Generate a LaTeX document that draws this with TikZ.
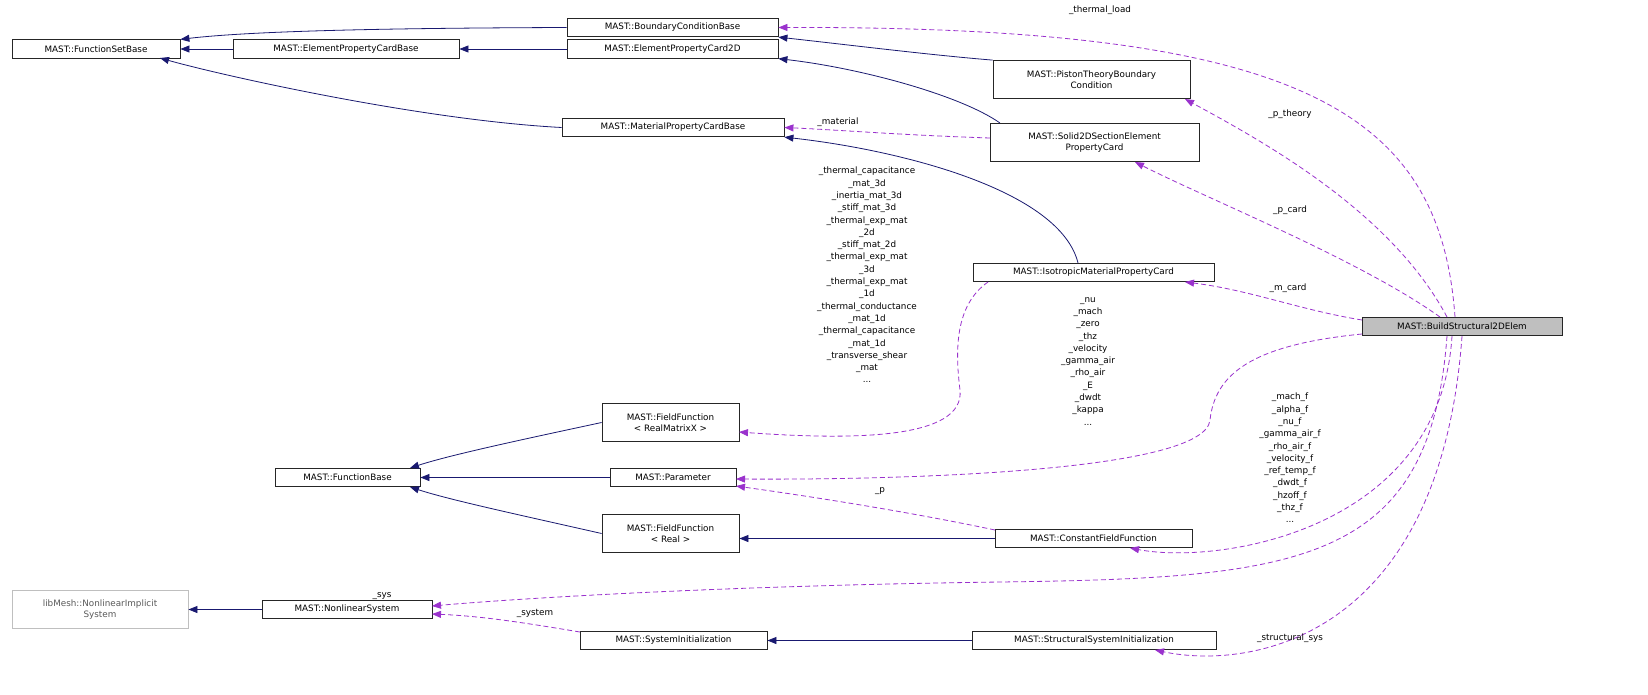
\documentclass[tikz,border=0pt]{standalone}
\usepackage{fontspec}
\setmainfont{DejaVu Sans}
\usetikzlibrary{arrows.meta}
\definecolor{navy}{HTML}{191970}
\definecolor{purp}{HTML}{9A32CD}
\begin{document}
\begin{tikzpicture}[x=1pt,y=-1pt,
  box/.style={draw=black!85,fill=white,inner sep=0pt,font=\fontsize{8.8}{11.5}\selectfont,align=center,line width=0.8pt,minimum height=18.5pt},
  box2/.style={box,minimum height=38pt},
  inh/.style={draw=navy,line width=0.8pt,-{Triangle[length=9pt,width=7pt]}},
  col/.style={draw=purp,line width=0.8pt,dashed,dash pattern=on 5pt off 3pt,-{Triangle[length=9pt,width=7pt]}},
  lab/.style={font=\fontsize{8.8}{12.3}\selectfont,align=center,inner sep=0pt}]
\useasboundingbox (0,0) rectangle (1648,694);
\fill[white] (0,0) rectangle (1648,694);
\node[box,minimum width=168pt] (fsb) at (96,49) {MAST::FunctionSetBase};
\node[box,minimum width=211pt] (bcb) at (672.5,27.5) {MAST::BoundaryConditionBase};
\node[box,minimum width=226pt] (epcb) at (346,49) {MAST::ElementPropertyCardBase};
\node[box,minimum width=211pt] (epc2) at (672.5,49) {MAST::ElementPropertyCard2D};
\node[box,minimum width=222pt] (mpcb) at (673,127.5) {MAST::MaterialPropertyCardBase};
\node[box2,minimum width=197pt] (pist) at (1091.5,79.5) {MAST::PistonTheoryBoundary\\Condition};
\node[box2,minimum width=209pt] (sol) at (1094.5,142.5) {MAST::Solid2DSectionElement\\PropertyCard};
\node[box,minimum width=241pt] (iso) at (1093.5,272.5) {MAST::IsotropicMaterialPropertyCard};
\node[box,fill=black!25,minimum width=200pt] (bld) at (1462,326.5) {MAST::BuildStructural2DElem};
\node[box2,minimum width=137pt] (ffm) at (670.5,422.5) {MAST::FieldFunction\\< RealMatrixX >};
\node[box,minimum width=145pt] (fb) at (347.5,477.5) {MAST::FunctionBase};
\node[box,minimum width=126pt] (par) at (673,477.5) {MAST::Parameter};
\node[box2,minimum width=137pt] (ffr) at (670.5,533.5) {MAST::FieldFunction\\< Real >};
\node[box,minimum width=197pt] (cff) at (1093.5,538.5) {MAST::ConstantFieldFunction};
\node[box2,draw=black!25,text=black!65,minimum width=176pt] (lib) at (100,609.5) {libMesh::NonlinearImplicit\\System};
\node[box,minimum width=170pt] (ns) at (347,609.5) {MAST::NonlinearSystem};
\node[box,minimum width=187pt] (si) at (673.5,640.5) {MAST::SystemInitialization};
\node[box,minimum width=244pt] (ssi) at (1094,640.5) {MAST::StructuralSystemInitialization};
% inheritance
\draw[inh] (bcb.west) .. controls (420,28) and (260,30) .. (fsb.north east);
\draw[inh] (epcb) -- (fsb);
\draw[inh] (mpcb.west) .. controls (420,120) and (220,75) .. (160,58);
\draw[inh] (epc2) -- (epcb);
\draw[inh] (pist.north west) .. controls (930,55) and (850,45) .. (bcb.south east);
\draw[inh] (1000,123) .. controls (960,95) and (860,68) .. (epc2.south east);
\draw[inh] (1078,263) .. controls (1060,190) and (900,150) .. (mpcb.south east);
\draw[inh] (ffm.west) .. controls (520,440) and (450,455) .. (410,468);
\draw[inh] (par) -- (fb);
\draw[inh] (ffr.west) .. controls (520,515) and (450,500) .. (410,487);
\draw[inh] (cff.west) -- (ffr.east |- cff.west);
\draw[inh] (ns) -- (lib);
\draw[inh] (ssi) -- (si);
% collaboration
\draw[col] (1455,317) .. controls (1440,110) and (1300,26) .. (bcb.east);
\node[lab] (l1) at (1100,10) {\_thermal\_load};
\draw[col] (1447,317) .. controls (1390,210) and (1260,140) .. (1185,99);
\node[lab] (l2) at (1290,114) {\_p\_theory};
\draw[col] (1440,317) .. controls (1360,260) and (1210,200) .. (1135,162);
\node[lab] (l3) at (1290,210) {\_p\_card};
\draw[col] (1362,320) .. controls (1300,310) and (1250,290) .. (1185,282);
\node[lab] (l4) at (1288,288) {\_m\_card};
\draw[col] (990,138) .. controls (900,135) and (840,130) .. (mpcb.east);
\node[lab] (l5) at (838,122) {\_material};
\draw[col] (988,282) .. controls (955,305) and (955,350) .. (960,390) .. controls (965,440) and (850,440) .. (739,432);
\node[lab,anchor=north] (l6) at (867,167) {\_thermal\_capacitance\\\_mat\_3d\\\_inertia\_mat\_3d\\\_stiff\_mat\_3d\\\_thermal\_exp\_mat\\\_2d\\\_stiff\_mat\_2d\\\_thermal\_exp\_mat\\\_3d\\\_thermal\_exp\_mat\\\_1d\\\_thermal\_conductance\\\_mat\_1d\\\_thermal\_capacitance\\\_mat\_1d\\\_transverse\_shear\\\_mat\\...};
\draw[col] (1362,334) .. controls (1250,345) and (1215,375) .. (1210,420) .. controls (1205,472) and (900,480) .. (736,479);
\node[lab,anchor=north] (l7) at (1088,297) {\_nu\\\_mach\\\_zero\\\_thz\\\_velocity\\\_gamma\_air\\\_rho\_air\\\_E\\\_dwdt\\\_kappa\\...};
\draw[col] (995,530) .. controls (900,510) and (800,495) .. (736,486);
\node[lab] (l8) at (880,491) {\_p};
\draw[col] (1452,336) .. controls (1440,530) and (1220,565) .. (1130,548);
\node[lab,anchor=north] (l9) at (1290,393) {\_mach\_f\\\_alpha\_f\\\_nu\_f\\\_gamma\_air\_f\\\_rho\_air\_f\\\_velocity\_f\\\_ref\_temp\_f\\\_dwdt\_f\\\_hzoff\_f\\\_thz\_f\\...};
\draw[col] (1447,336) .. controls (1430,565) and (1300,578) .. (1000,582) .. controls (700,586) and (500,600) .. (432,606);
\node[lab] (l10) at (382,596) {\_sys};
\draw[col] (580,632) .. controls (520,622) and (480,616) .. (432,614);
\node[lab] (l11) at (535,613) {\_system};
\draw[col] (1462,336) .. controls (1440,640) and (1250,670) .. (1155,650);
\node[lab] (l12) at (1290,638) {\_structural\_sys};
\end{tikzpicture}
\end{document}
